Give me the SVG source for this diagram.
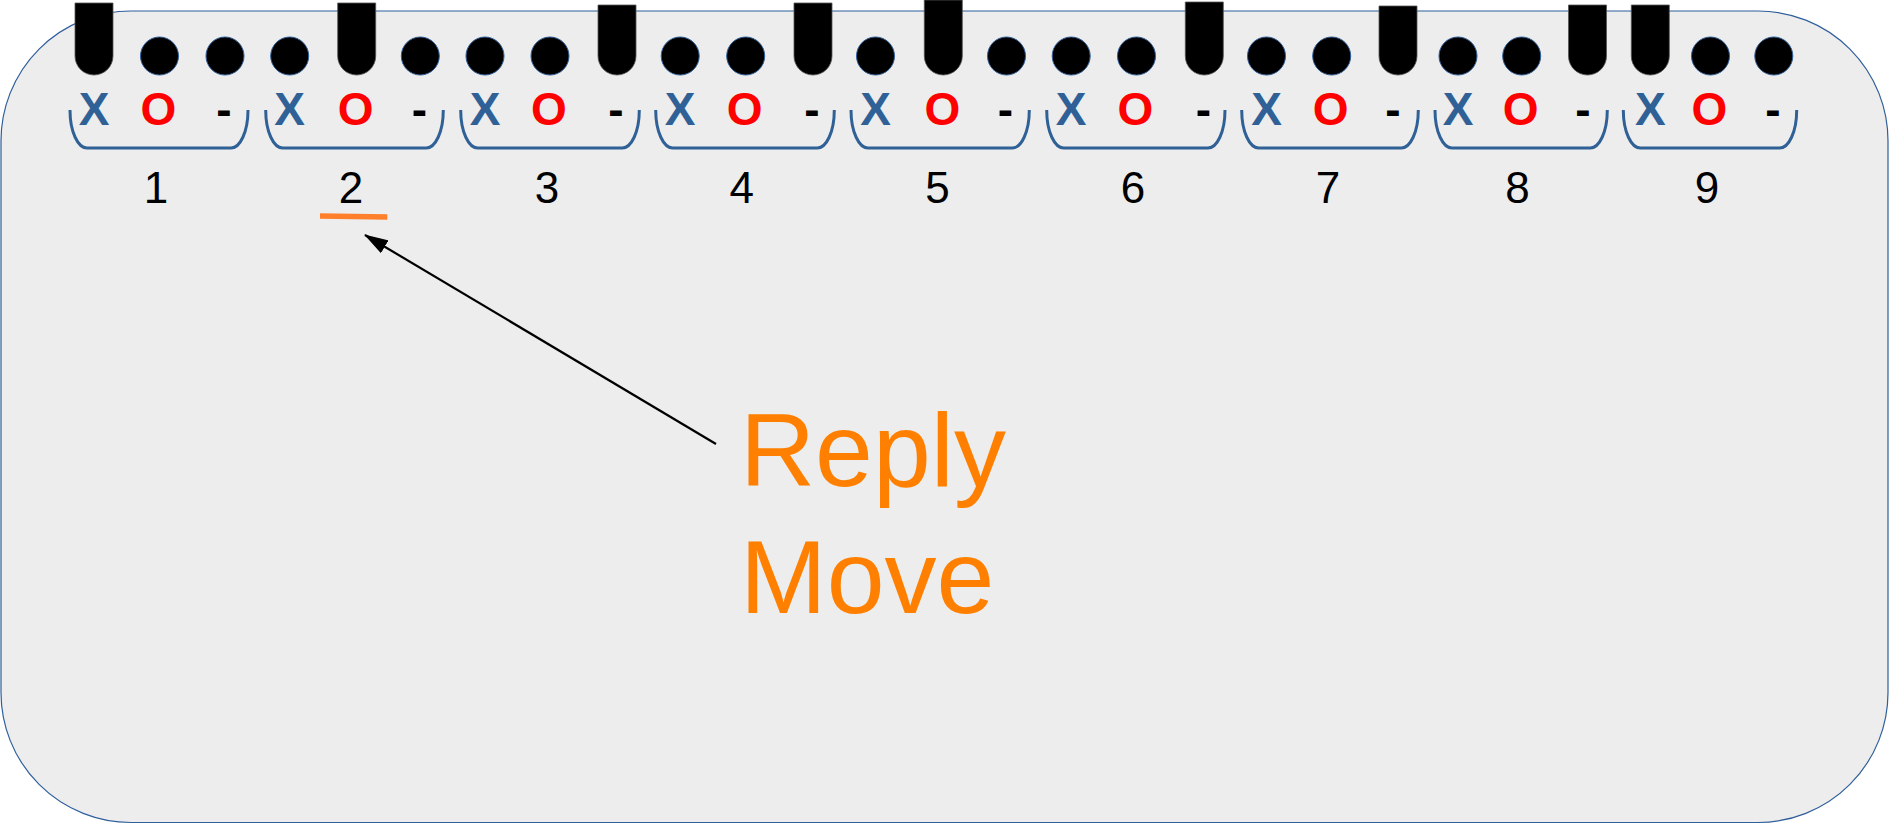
<svg xmlns="http://www.w3.org/2000/svg" width="1890" height="824" viewBox="0 0 1890 824">
<style>
.bg{fill:#EDEDED;stroke:#2F5F9B;stroke-width:1.2}
.dot{fill:#000;stroke:#2F5F9B;stroke-width:1}
.pen{fill:#000;stroke:#555;stroke-width:0.8}
.x{font-family:"Liberation Sans",Arial,sans-serif;font-weight:bold;font-size:46px;fill:#2F6197;text-anchor:middle}
.o{font-family:"Liberation Sans",Arial,sans-serif;font-weight:bold;font-size:46px;fill:#FF0000;text-anchor:middle}
.d{font-family:"Liberation Sans",Arial,sans-serif;font-weight:bold;font-size:46px;fill:#000;text-anchor:middle}
.n{font-family:"Liberation Sans",Arial,sans-serif;font-size:44px;fill:#000;text-anchor:middle}
.br{fill:none;stroke:#2F6197;stroke-width:3}
.big{font-family:"Liberation Sans",Arial,sans-serif;font-size:104px;fill:#FF8000}
</style>
<defs>
<marker id="ah" markerWidth="24" markerHeight="15" refX="23" refY="7.5" orient="auto" markerUnits="userSpaceOnUse" viewBox="0 0 24 15">
<path d="M0,0 L24,7.5 L0,15 Z" fill="#000"/>
</marker>
</defs>
<rect class="bg" x="1" y="11" width="1887" height="811.5" rx="130" ry="130"/>

<g id="g1">
<path class="pen" d="M75,3 H113 V56 A19,19 0 0 1 75,56 Z"/>
<circle class="dot" cx="159.5" cy="56" r="19"/>
<circle class="dot" cx="225" cy="56" r="19"/>
<text class="x" x="94" y="125">X</text><text class="o" x="158.5" y="125">O</text><text class="d" x="224" y="125">-</text>
<path class="br" d="M70,110 C70,132 78,148 87,148 H231 C240,148 248,132 248,110"/>
<text class="n" x="156" y="203">1</text>
</g>
<g id="g2">
<circle class="dot" cx="289.7" cy="56" r="19"/>
<path class="pen" d="M337.7,3 H375.7 V56 A19,19 0 0 1 337.7,56 Z"/>
<circle class="dot" cx="420.3" cy="56" r="19"/>
<text class="x" x="289.7" y="125">X</text><text class="o" x="355.7" y="125">O</text><text class="d" x="419.3" y="125">-</text>
<path class="br" d="M265.7,110 C265.7,132 273.7,148 282.7,148 H426.3 C435.3,148 443.3,132 443.3,110"/>
<text class="n" x="351" y="203">2</text>
</g>
<g id="g3">
<circle class="dot" cx="485" cy="56" r="19"/>
<circle class="dot" cx="550" cy="56" r="19"/>
<path class="pen" d="M598,5 H636 V56 A19,19 0 0 1 598,56 Z"/>
<text class="x" x="485" y="125">X</text><text class="o" x="549" y="125">O</text><text class="d" x="616" y="125">-</text>
<path class="br" d="M460.7,110 C460.7,132 468.7,148 477.7,148 H622.3 C631.3,148 639.3,132 639.3,110"/>
<text class="n" x="547" y="203">3</text>
</g>
<g id="g4">
<circle class="dot" cx="680.2" cy="56" r="19"/>
<circle class="dot" cx="745.7" cy="56" r="19"/>
<path class="pen" d="M794,3 H832 V56 A19,19 0 0 1 794,56 Z"/>
<text class="x" x="680.2" y="125">X</text><text class="o" x="744.7" y="125">O</text><text class="d" x="812" y="125">-</text>
<path class="br" d="M655.7,110 C655.7,132 663.7,148 672.7,148 H817.3 C826.3,148 834.3,132 834.3,110"/>
<text class="n" x="741.7" y="203">4</text>
</g>
<g id="g5">
<circle class="dot" cx="875.5" cy="56" r="19"/>
<path class="pen" d="M924.3,0 H962.3 V56 A19,19 0 0 1 924.3,56 Z"/>
<circle class="dot" cx="1006.5" cy="56" r="19"/>
<text class="x" x="875.5" y="125">X</text><text class="o" x="942.3" y="125">O</text><text class="d" x="1005.5" y="125">-</text>
<path class="br" d="M851,110 C851,132 859,148 868,148 H1012.3 C1021.3,148 1029.3,132 1029.3,110"/>
<text class="n" x="937.5" y="203">5</text>
</g>
<g id="g6">
<circle class="dot" cx="1071.2" cy="56" r="19"/>
<circle class="dot" cx="1136.5" cy="56" r="19"/>
<path class="pen" d="M1185.3,2 H1223.3 V56 A19,19 0 0 1 1185.3,56 Z"/>
<text class="x" x="1071.2" y="125">X</text><text class="o" x="1135.5" y="125">O</text><text class="d" x="1203.3" y="125">-</text>
<path class="br" d="M1046.7,110 C1046.7,132 1054.7,148 1063.7,148 H1208 C1217,148 1225,132 1225,110"/>
<text class="n" x="1133" y="203">6</text>
</g>
<g id="g7">
<circle class="dot" cx="1266.5" cy="56" r="19"/>
<circle class="dot" cx="1331.7" cy="56" r="19"/>
<path class="pen" d="M1379,6 H1417 V56 A19,19 0 0 1 1379,56 Z"/>
<text class="x" x="1266.5" y="125">X</text><text class="o" x="1330.7" y="125">O</text><text class="d" x="1393" y="125">-</text>
<path class="br" d="M1241.7,110 C1241.7,132 1249.7,148 1258.7,148 H1401.3 C1410.3,148 1418.3,132 1418.3,110"/>
<text class="n" x="1328" y="203">7</text>
</g>
<g id="g8">
<circle class="dot" cx="1458" cy="56" r="19"/>
<circle class="dot" cx="1521.7" cy="56" r="19"/>
<path class="pen" d="M1568.5,5 H1606.5 V56 A19,19 0 0 1 1568.5,56 Z"/>
<text class="x" x="1458" y="125">X</text><text class="o" x="1520.7" y="125">O</text><text class="d" x="1583" y="125">-</text>
<path class="br" d="M1435,110 C1435,132 1443,148 1452,148 H1590.3 C1599.3,148 1607.3,132 1607.3,110"/>
<text class="n" x="1517.5" y="203">8</text>
</g>
<g id="g9">
<path class="pen" d="M1631.3,5 H1669.3 V56 A19,19 0 0 1 1631.3,56 Z"/>
<circle class="dot" cx="1710.5" cy="56" r="19"/>
<circle class="dot" cx="1773.8" cy="56" r="19"/>
<text class="x" x="1650.3" y="125">X</text><text class="o" x="1709.5" y="125">O</text><text class="d" x="1772.8" y="125">-</text>
<path class="br" d="M1623.3,110 C1623.3,132 1631.3,148 1640.3,148 H1779.7 C1788.7,148 1796.7,132 1796.7,110"/>
<text class="n" x="1707" y="203">9</text>
</g>

<g id="highlight">
<line x1="320" y1="216" x2="387.3" y2="217" stroke="#FF7F2A" stroke-width="5.5"/>
</g>

<g id="connectors">
<line x1="716" y1="444" x2="365" y2="235" stroke="#000" stroke-width="2.2" marker-end="url(#ah)"/>
</g>

<g id="label">
<text class="big" x="740" y="486">Reply</text>
<text class="big" x="740" y="613">Move</text>
</g>
</svg>
